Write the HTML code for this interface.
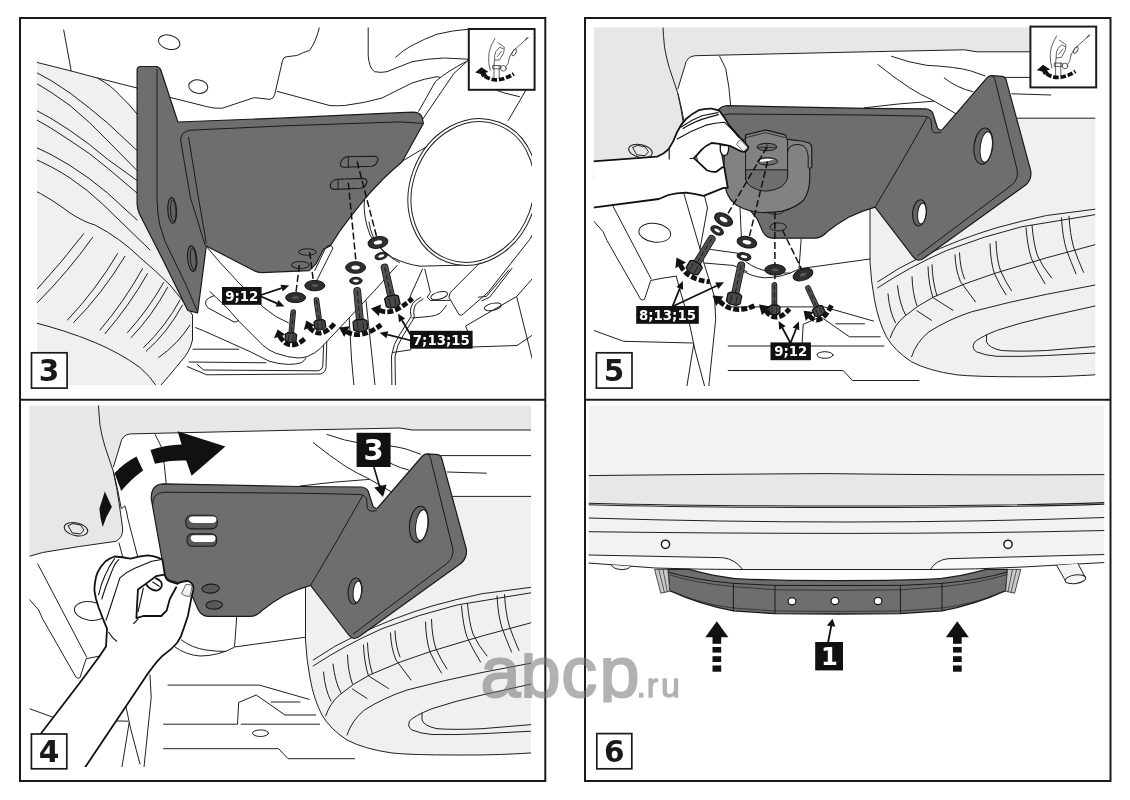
<!DOCTYPE html>
<html lang="ru"><head><meta charset="utf-8"><title>Installation steps 3-6</title>
<style>
html,body{margin:0;padding:0;background:#fff;}
svg{display:block;}
.lbl{font-family:"DejaVu Sans","Liberation Sans",sans-serif;font-weight:bold;}
.wm{font-family:"Liberation Sans",sans-serif;}
.l{fill:none;stroke:#231f20;stroke-width:1;stroke-linecap:round;stroke-linejoin:round;}
.d{fill:#6d6e71;stroke:#1a1a1a;stroke-width:1.2;stroke-linejoin:round;}
.k{fill:#111;}
</style></head><body>
<svg width="1130" height="800" viewBox="0 0 1130 800" style="filter:grayscale(1)">
<defs>
<clipPath id="c3"><rect x="37" y="27.5" width="495" height="357.6"/></clipPath>
<clipPath id="c5"><rect x="593.75" y="27.5" width="501.5" height="358.5"/></clipPath>
<clipPath id="c4"><rect x="29.5" y="405.5" width="501.5" height="361.5"/></clipPath>
<clipPath id="cwm"><rect x="470" y="653" width="230" height="49.4"/></clipPath>
<clipPath id="c6"><rect x="588.75" y="405.5" width="515.5" height="370"/></clipPath>
<!-- shared background of panels 4/5 in panel-4 coordinates -->
<g id="bg45">
<!-- gray top band + left body panel -->
<path d="M20,395 H545 V430 L412,430 L400,428 L302,430 L130.6,433.9 Q122,434.6 120.4,444 L113.5,466.7 L113.2,471 Q117,488 119.2,503.7 L122.6,528 Q123.5,537 116,541.3 Q80,546 42.5,552.5 L20,559 Z" fill="#e6e7e8"/>
<!-- tire fill -->
<path d="M305.5,586 L452.6,496.4 H545 V752 Q500,755.5 457,755 Q410,755 392,753 Q364,749 347,740 Q330,729 322,715 Q314,700 310,678 Q306.5,660 305.5,640 Z" fill="#eff0f0"/>
<g class="l">
<!-- body panel edge -->
<path d="M98.1,400 Q99,415 100,425.4 Q102,437 105,446.7 L113.2,471 Q117,488 119.2,503.7 L122.6,528 Q123.5,537 116,541.3 Q80,546 42.5,552.5 L20,559"/>
<!-- white opening edge -->
<path d="M545,430 L412,430 L400,428 L302,430 L130.6,433.9 Q122,434.6 120.4,444 L113.5,466.7"/>
<path d="M113.6,472 Q118,490 121.3,508.7 L124.9,505.9 Q127,512 127.7,518 L137.5,556"/>
<path d="M155.2,434.6 Q158.5,441 161.2,446.7 Q165,465 166.2,484"/>
<path d="M119,543 L123,558"/>
<!-- nut on body panel -->
<ellipse cx="76" cy="529.2" rx="12" ry="6.4" transform="rotate(12 76 529.2)"/>
<path d="M68.5,525.5 L73,523.6 L80.5,525 L84,530 L80.5,534 L72.5,533 Z"/>
<!-- lines above bracket -->
<path d="M313.3,442.7 Q330,456 345,466 Q356,473 367.4,478 L392.3,492.4"/>
<path d="M327,434.5 Q345,441 362,443.5 Q392,445 406,449 L420.7,454.2"/>
<path d="M300,486 Q335,481.5 369,479.4"/>
<path d="M440,455.6 H545"/>
<path d="M447.3,472 L486.3,473.2"/>
<path d="M379.7,456.2 Q392,466 408.5,470"/>
<path d="M452.6,496.4 H545"/>
<!-- tire -->
<path d="M305.5,586 V640 Q306.5,660 310,678 Q314,700 322,715 Q330,729 347,740 Q364,749 392,753 Q410,755 457,755 Q500,755.5 545,752"/>
<path d="M313.2,660 Q335,645 357,635 Q395,617 432,606 Q457,599 482,593.7 L545,585.5"/>
<path d="M313.2,666 Q345,645 382,628.7 Q420,614 457,605 L545,590.5"/>
<path d="M325.7,716 Q330,703 339.5,695 Q352,684 369.5,675 Q400,661 432,651 L482,636 L545,619"/>
<path d="M347,735 Q352,720 364.5,710 Q383,698 407,690 Q445,680 482,672.5 L545,660.5"/>
<path d="M545,681 L482,695 Q455,701 432,708.7 Q414,716 409.5,721 Q407,727 412,730 Q420,733.5 432,734.5 Q457,735 482,733.7 L545,730.5"/>
<path d="M545,723.5 L482,728.7 Q455,730 437,728.7 Q424,726 422,720 L422,713"/>
<!-- tread grooves -->
<path d="M323.5,672 Q325,690 331,701"/><path d="M333,664 Q335,682 341,693"/>
<path d="M347.5,655 Q348,672 352.5,684"/>
<path d="M363.5,645 Q364,662 368.5,676"/><path d="M367.5,643 Q368,660 372.5,674"/>
<path d="M352.5,689 L367,698.5"/><path d="M369.5,676.5 L388.5,688.5"/>
<path d="M390.5,633 Q391,648 396,660 L411,680"/><path d="M395,631 Q395.5,646 400,657"/>
<path d="M425.5,622 Q426,640 430,652 Q435,663 441.5,673"/><path d="M431.5,619.5 Q432,637 436,649 Q441,660 447,669"/>
<path d="M461.5,606 Q463,625 467,637 Q472,648 480.5,662"/><path d="M467.5,603.5 Q469,622 473,634 Q478,645 487,656"/>
<path d="M497,596 Q498,615 502,628 Q506,639 511.5,652"/><path d="M504.5,594.5 Q505.5,612 509,625 Q513,637 519,650.5"/>
<!-- lower-left structure lines -->
<path d="M28.7,598.7 L38.7,610 L42.5,618.7 L76.2,677.5 Q78.5,679 80,677.5 L86.2,658.7 L100,656 L111.7,654.4"/>
<path d="M37.8,564 L86.6,657"/>
<ellipse cx="90.3" cy="611" rx="16" ry="9.3" transform="rotate(8 90.3 611)"/>
<path d="M29.5,708.7 L59.2,719.5 L128,721.2"/>
<path d="M129.2,722.5 L121.5,770"/><path d="M111.7,654.4 L115.5,668.2 L124.2,698.2 L130.5,728.2 L140,764"/><path d="M150,675 L151.2,697.5 L143.7,770"/>
<path d="M236.7,616.8 L234.5,647 L305.5,637.2"/>
<path d="M175,647 Q186,655 200,656 Q218,656 234,647.5"/>
<path d="M181.3,639.9 Q192,648 206,650 Q216,651.5 225.7,651.4"/>
<path d="M168,685.1 H259.4 L309,699.3"/>
<path d="M163.7,724.2 H237.5 L238.7,702.5 L256.2,695 L285,715 H315.7"/>
<path d="M241.2,724.2 H319.5"/>
<path d="M271.2,702 H300"/>
<ellipse cx="260.5" cy="733.2" rx="8" ry="3.3"/>
<path d="M163.7,748.7 H278.7 L288,758.7 H354.5"/>
</g>
</g>
<!-- shared plate + Z bracket (panel-4 coordinates) -->
<g id="plate45">
<path class="d" d="M151.3,499 Q150.8,484.5 163,483.8 L300,486.5 L361.2,487 Q366.5,487.3 368.3,491.5 L372.8,505.7 Q374.5,509.3 377.6,508 L422.4,456 Q424.5,453.8 427.5,453.8 L438,454.6 Q441.3,455.3 442,459.5 L466,548 Q468,556.5 461.5,563 L360.3,635.8 Q355.5,639.5 352.4,638 Q349.6,636.5 347.9,634 L310.6,585.3 Q297,589 284.2,595.5 Q272,602.5 263,609.7 Q257,616.4 250,616.4 L208,616.4 Q201.5,616 198.2,609.7 L192.8,597.3 L186,589 L175.5,581.8 Q166.5,581 164.8,574.7 Z"/>
<g class="l" style="stroke:#1a1a1a">
<!-- front face outlines -->
<path d="M152.6,505 Q152.2,492.6 164.8,492.2 L300,493.2 L359,494.4 Q365,494.8 366.5,498.6 L367.4,508.3 Q368.4,511.3 372,511.2 L376.5,510.6"/>
<path d="M362.8,495.4 L337.3,540 L310.6,585.3"/>
<path d="M427.5,453.9 Q429.5,454.5 430.4,457.7 L452.6,548 Q454.5,556.5 447.5,563 L353.2,634"/>
</g>
<!-- big hole -->
<g transform="rotate(7 418.9 524.3)">
<ellipse cx="418.9" cy="524.3" rx="9.3" ry="18.2" fill="#646568" stroke="#1a1a1a" stroke-width="1.1"/>
<ellipse cx="421.8" cy="524.8" rx="6" ry="15.4" fill="#fff" stroke="#1a1a1a" stroke-width="1"/>
</g>
<!-- lower hole -->
<g transform="rotate(6 355 591)">
<ellipse cx="355" cy="591" rx="6.9" ry="13.1" fill="#646568" stroke="#1a1a1a" stroke-width="1.1"/>
<ellipse cx="357.4" cy="591.4" rx="4.2" ry="10.6" fill="#fff" stroke="#1a1a1a" stroke-width="1"/>
</g>
</g>
<!-- inset icon: hand tightening (local coords, origin = outer top-left of box) -->
<g id="inset">
<rect x="1" y="1" width="65.8" height="60.8" fill="#fff" stroke="#1a1a1a" stroke-width="2"/>
<g fill="none" stroke="#3a3a3a" stroke-width=".8" stroke-linecap="round" stroke-linejoin="round">
<path d="M27.2,10.3 Q23,17 21.5,23.4 Q20.4,30 21.1,35.6 L22.5,42.2"/>
<path d="M30,14.6 L36.5,19.2 Q36.6,22.5 35.6,25.3 L31.8,31.9 L26.7,32.2 L26.2,37.5"/>
<path d="M26.7,32.2 Q26.4,27 28.2,23.4 L32.2,19.2 L35.6,21"/>
<path d="M29.5,28.5 L33.6,23.4"/>
<path d="M26.2,37.5 V49.7 M31.4,37.5 V49.7"/>
<path d="M25.3,37.5 H32.8 V40.8 H25.3Z"/>
<circle cx="35.6" cy="40.3" r="2.8"/>
<path d="M41.7,29.1 Q43.5,25 46.8,21.6 L56.2,13.1 L60.4,9.9 M57.5,12 L59.5,9.2"/>
<ellipse cx="46.4" cy="24.4" rx="1.8" ry="3.8" transform="rotate(28 46.4 24.4)"/>
<path d="M41.7,29.1 L40.3,35.6 L38,38.6"/>
</g>
<path d="M13.6,39.2 L20.8,44 L17.6,44.8 L19.6,47.6 L14.4,49.2 L12.8,46 L7.4,44.6Z" fill="#111"/>
<path d="M17,48.2 Q29,56.5 46,45.8" fill="none" stroke="#111" stroke-width="3.8" stroke-dasharray="5.6 1.8"/>
</g>

</defs>
<rect width="1130" height="800" fill="#fff"/>
<g clip-path="url(#c3)">
<!-- tire fill -->
<path d="M30,60.7 L97.5,78 Q112,86 120,95.5 Q130,105 150,114 V230 L196,312 L192.5,316 V340 Q190,352 180,362.5 Q170,375 155,392 H30 Z" fill="#eff0f0"/>
<g class="l">
<!-- tire edge + tread curves -->
<path d="M30,60.7 L71.2,71 L97.5,78 L137,88"/>
<path d="M63.7,30 L71.2,71"/>
<path d="M97.5,78 Q112,86 120,95.5 Q130,105 137,114"/>
<path d="M30,69 Q52,80 70,93 Q90,108 107.5,123 L137,150.5"/>
<path d="M30,79.5 Q52,92 70,105.5 Q90,122 107.5,140.5 L137,170.5"/>
<path d="M30,107 Q52,118 70,130.5 Q90,144 107.5,159.2 L137,180.5"/>
<path d="M30,116 Q52,128 70,140.5 Q90,153 107.5,168 L137,193"/>
<path d="M30,144.5 Q52,154 70,165.5 Q90,178 107.5,193 L137,220"/>
<path d="M30,157 Q52,166 70,178 Q88,190 102.5,204 L150,250"/>
<path d="M30,188 Q52,199 70,213 Q84,222 95,225 Q120,238 140,257.5 Q156,271 170,285 Q183,300 192.5,315 V340 Q190,352 180,362.5 Q170,375 155,392"/>
<path d="M30,321.5 Q65,330 95,342.5 Q120,353 140,367.5 Q150,376 158,388"/>
<!-- tread grooves -->
<path d="M83.7,233.7 Q62,262 37.5,288.7"/><path d="M92.5,237.5 Q68,272 37.5,302.5"/>
<path d="M117.5,253.7 Q96,290 67.5,320"/><path d="M125,256.2 Q102,294 73.7,322.5"/>
<path d="M142.5,268.7 Q124,302 100,330"/><path d="M147.5,273.7 Q129,306 105,333.7"/>
<path d="M163.7,282.5 Q148,310 127.5,332.5"/><path d="M167.5,287.5 Q152,316 131.2,337.5"/>
<path d="M180,300 Q166,326 143.7,347.5"/><path d="M182.5,305 Q168,332 146.2,351.2"/>
<path d="M190,325 Q178,344 158.7,357.5"/>
<!-- upper structure -->
<ellipse cx="169.2" cy="42.2" rx="11" ry="7" transform="rotate(15 169.2 42.2)"/>
<ellipse cx="198.3" cy="86.6" rx="9.6" ry="6.7" transform="rotate(8 198.3 86.6)"/>
<path d="M137,88 L170.8,97.6 L206.3,106.5 Q214,108.8 222.3,108.2 L254.2,97.6 L270.2,99.4 Q273.5,98.5 274.6,94.9 L282.6,60.3 Q283.5,57 286.2,56.8 L296.8,55.5 Q304,52 309.5,50.5 Q316,42 319.5,27"/>
<path d="M277.3,91.4 L330,105.6 Q338,106 344.5,105.5 Q365,103 382,98 L412,83 Q425,78.5 437,76.7 L440.7,77.5"/>
<path d="M368.2,27 V55.5 Q369,68 374.5,71.7 Q381,73 387,71.7 L412,61.7 Q428,58.5 444.5,58 L468.2,59.2"/>
<path d="M395.7,57.2 Q403,50 412,45.5 Q424,39 437,34.2 Q452,30.5 468.2,29.2"/>
<path d="M467.5,60.8 Q446,72 435.4,81.6 L418.7,111.2"/>
<path d="M467.5,61 L454,73.3 L422.8,119"/>
<path d="M497,90.5 L504.5,93 L519.5,96.7"/>
<path d="M525.7,90.5 L508.2,120.5"/>
</g>
<!-- muffler body (white) -->
<path d="M440,138.7 L400,162.5 L364,200 Q362.5,215 370,235 Q378,248 392.5,257.5 Q405,264 420,266.2 L470,265 L520,180 Z" fill="#fff"/>
<g class="l">
<path d="M440,138.7 L400,162.5"/>
<path d="M364.5,199 Q362.5,215 370,235 Q378,248 392.5,257.5 Q405,264 420,266.2 L466,265"/>
<path d="M369,222 Q371,238 382,250 Q392,259 399.5,262.5"/>
</g>
<!-- exhaust ellipse -->
<g transform="rotate(-69.7 472.7 192)">
<ellipse cx="472.7" cy="192" rx="74.7" ry="63.2" fill="#fff" stroke="#231f20" stroke-width="1"/>
<ellipse cx="472.7" cy="192" rx="71.6" ry="60.1" fill="none" stroke="#231f20" stroke-width="1"/>
</g>
<!-- bracket: flange + plate -->
<path class="d" d="M137.1,70 Q137.1,66.5 140.5,66.5 L156,66.5 Q159.5,66.8 160.8,70 L177.9,122 L285,117.9 L400,112.7 L414,112.2 Q420,112.4 422.2,117.6 L423.4,123.5 L402,162 Q390,172 382,180.2 Q372,190 364.2,199.7 L350,217.4 L339.4,231.6 L330.5,245.8 L323.4,249.4 L316.3,263.6 L309.2,270.7 L262,272.6 Q257.5,272.6 254.2,270.7 L206.3,246 L197.6,312.8 L187.8,310.5 L162.5,259 L139.5,214 Q137.3,209 137.1,204 Z"/>
<g class="l" style="stroke:#1a1a1a">
<path d="M157,69.2 V200 Q157.5,214 159.5,224 L165,241.3 L186,285 L197,310.5"/>
<path d="M422.6,123.4 L400,121.9 L285,125.8 L190.3,130.2 Q181,131.3 180.6,140.2 L190.3,197 L205,245"/>
<path d="M188.6,137.5 L198.3,197 L206.3,243"/>
</g>
<!-- flange holes -->
<g fill="#626366" stroke="#1a1a1a" stroke-width="1.1">
<ellipse cx="172.2" cy="210.4" rx="4.4" ry="12.8" transform="rotate(-3 172.2 210.4)"/>
<ellipse cx="192.2" cy="258.6" rx="4.6" ry="12.8" transform="rotate(-5 192.2 258.6)"/>
</g>
<g fill="none" stroke="#1a1a1a" stroke-width=".9">
<ellipse cx="173.2" cy="210.8" rx="2.7" ry="10.6" transform="rotate(-3 173.2 210.8)"/>
<ellipse cx="193.2" cy="259" rx="2.8" ry="10.6" transform="rotate(-5 193.2 259)"/>
</g>
<!-- slots -->
<g fill="#6d6e71" stroke="#1a1a1a" stroke-width="1.1" stroke-linejoin="round">
<path d="M346.5,156.7 L374.5,156.2 Q378.4,156.8 378,159.8 Q376.5,165.6 371.3,166.3 L344.5,167.2 Q340.2,167 340.3,164.2 Q341.5,158 346.5,156.7Z"/>
<path d="M336.7,179.3 L363.5,178.4 Q367.3,179 366.9,182 Q365.5,187.6 360.7,188.2 L334,189.4 Q330,189 330.2,185.5 Q331.5,180.2 336.7,179.3Z"/>
</g>
<path d="M348.3,157 V167 M338.1,179.6 V189" class="l" style="stroke:#1a1a1a"/>
<!-- plate small holes -->
<g fill="none" stroke="#1a1a1a" stroke-width="1">
<ellipse cx="307.4" cy="252" rx="8.9" ry="3.2"/>
<ellipse cx="300.3" cy="265" rx="8.9" ry="3.5"/>
</g>
<!-- guide dashes -->
<g fill="none" stroke="#111" stroke-width="1.5" stroke-dasharray="7 3">
<path d="M357.1,161.5 L377.5,240"/>
<path d="M348.3,182.8 L356.2,264"/>
<path d="M309.7,252 L313.5,282"/>
<path d="M299.4,265 L295.5,296"/>
</g>

<!-- chassis / frame lines lower right -->
<g class="l">
<path d="M314.8,270.4 L326,247.2 Q328.5,244.5 330.8,245.6 L333,248 L316,282"/>
<path d="M206,246 L219.6,262 L238.8,282.8 L262.8,306.8 L275.6,316.4 L288.4,322.8"/>
<path d="M210,291.6 L227.6,308.4 L238.8,321.2 L262.8,345.2 Q269,350.5 275.6,353.2 Q288,357.5 298,358 Q303,358 307.6,356.4 Q315,353.5 320.4,348.4 L346,321.2 L374,291.2 L397,265.5"/>
<path d="M214,295.6 Q209,297 206,300.4 Q204.5,304.5 207.6,307.6 L234,322 Q237,322.2 238.8,320.4"/>
<path d="M195.6,327.6 L203.6,330.8 L250,351.6 L269.2,361.2 Q279,364.2 288.4,364.4 Q296,364.4 301.2,362.8 Q304.5,361 306,358"/>
<path d="M193,349.2 H238.8"/>
<path d="M189,362 L266,362.8"/>
<path d="M197.2,364.4 L203.6,370 L318.8,370.8 Q322.5,369.5 322.8,366 L323.6,345.2"/>
<path d="M187,366.5 L206.8,374.8 L320.4,374 Q325.6,372.5 326,367.6 L326.8,342"/>
<path d="M349.2,318.4 L351.6,360 L354.5,392"/>
<path d="M366,300.8 L372.4,360 L375.7,392"/>
<path d="M422.4,269.2 L411.2,294 L409.6,298.8"/>
<path d="M424.8,269.2 L430.4,292.4 L427.2,297.2 L430.4,300.4 L449.6,300.4"/>
<path d="M420.8,297.2 Q414,301 412.8,303.6 Q410.2,308 410.4,311.6 L411.2,316.4 L400,334 Q393,344 391.5,356 L392,392"/>
<path d="M423,299 Q417,302.5 415.4,305 Q413.4,309 413.8,312.6 L414.4,317.4 L403.4,335 Q396.5,345 395,357 L395.5,392"/>
<path d="M446.4,305.2 Q443.5,310 440,313.2 Q436,315.8 430.4,316.4 L412,318"/>
<ellipse cx="439.2" cy="295.6" rx="8.6" ry="3.6" transform="rotate(-15 439.2 295.6)"/>
<ellipse cx="492.8" cy="306.8" rx="8.6" ry="3.5" transform="rotate(-12 492.8 306.8)"/>
<path d="M480,262.8 L450.4,292.4 L448.8,297.2 L459.2,314.8 Q461.5,316 463.2,314 L488,292.4 L529.6,239.6 L540,222"/>
<path d="M508.8,270 L486.4,296.4 L478.4,297.2"/>
<path d="M512,268.4 L489.6,297.2 L482,300.8"/>
<path d="M516.8,297.2 L529.6,348.4 L533,362"/>
<path d="M540,270 L516.8,296.4 L465.6,326 L472,342"/>
<path d="M472.5,347 L517,345.5 L540,330"/>
<path d="M392.5,352.5 L411,349.8"/>
</g>

<g transform="rotate(0 295.6 297.6)"><ellipse cx="295.6" cy="297.6" rx="10" ry="5" fill="#2f2f31" stroke="#111" stroke-width="1"/><ellipse cx="295.6" cy="297.6" rx="3.3" ry="1.3" fill="#58595b"/></g>
<line x1="293.2" y1="312" x2="290.8" y2="337.6" stroke="#111" stroke-width="5.6" stroke-linecap="round"/><line x1="293.2" y1="312" x2="290.8" y2="337.6" stroke="#505053" stroke-width="4.2" stroke-linecap="round"/><line x1="293.2" y1="312" x2="290.8" y2="337.6" stroke="#1a1a1a" stroke-width="1" stroke-dasharray="5 2.5"/><g transform="translate(290.8 337.6) rotate(5.4)"><path d="M-5.5,-3.3249999999999997 L-3.3,-4.75 L3.3,-4.75 L5.5,-3.3249999999999997 L5.5,2.85 L2.75,4.75 L-2.75,4.75 L-5.5,2.85Z" fill="#4a4a4d" stroke="#111" stroke-width="1.3" stroke-linejoin="round"/><path d="M-2.2,-2.85 V3.8000000000000003 M2.2,-2.85 V3.8000000000000003" stroke="#111" stroke-width=".7" fill="none"/></g>
<g transform="rotate(0 314.8 285.6)"><ellipse cx="314.8" cy="285.6" rx="10" ry="5.2" fill="#2f2f31" stroke="#111" stroke-width="1"/><ellipse cx="314.8" cy="285.6" rx="3.3" ry="1.3" fill="#58595b"/></g>
<line x1="316.4" y1="300" x2="319.9" y2="324.8" stroke="#111" stroke-width="5.6" stroke-linecap="round"/><line x1="316.4" y1="300" x2="319.9" y2="324.8" stroke="#505053" stroke-width="4.2" stroke-linecap="round"/><line x1="316.4" y1="300" x2="319.9" y2="324.8" stroke="#1a1a1a" stroke-width="1" stroke-dasharray="5 2.5"/><g transform="translate(319.9 324.8) rotate(-8.0)"><path d="M-5.5,-3.3249999999999997 L-3.3,-4.75 L3.3,-4.75 L5.5,-3.3249999999999997 L5.5,2.85 L2.75,4.75 L-2.75,4.75 L-5.5,2.85Z" fill="#4a4a4d" stroke="#111" stroke-width="1.3" stroke-linejoin="round"/><path d="M-2.2,-2.85 V3.8000000000000003 M2.2,-2.85 V3.8000000000000003" stroke="#111" stroke-width=".7" fill="none"/></g>
<g transform="rotate(0 355.6 267.5)"><ellipse cx="355.6" cy="267.5" rx="10" ry="5.8" fill="#2f2f31" stroke="#111" stroke-width="1"/><ellipse cx="355.6" cy="267.5" rx="4.2" ry="2" fill="#fff"/></g>
<g transform="rotate(0 355.9 280.8)"><ellipse cx="355.9" cy="280.8" rx="6.3" ry="3.5" fill="#2f2f31" stroke="#111" stroke-width="1"/><ellipse cx="355.9" cy="280.8" rx="3" ry="1.4" fill="#fff"/></g>
<line x1="357.2" y1="291" x2="360.4" y2="325.6" stroke="#111" stroke-width="7.800000000000001" stroke-linecap="round"/><line x1="357.2" y1="291" x2="360.4" y2="325.6" stroke="#505053" stroke-width="6.4" stroke-linecap="round"/><line x1="357.2" y1="291" x2="360.4" y2="325.6" stroke="#1a1a1a" stroke-width="1" stroke-dasharray="5 2.5"/><g transform="translate(360.4 325.6) rotate(-5.3)"><path d="M-7.0,-4.199999999999999 L-4.2,-6.0 L4.2,-6.0 L7.0,-4.199999999999999 L7.0,3.5999999999999996 L3.5,6.0 L-3.5,6.0 L-7.0,3.5999999999999996Z" fill="#4a4a4d" stroke="#111" stroke-width="1.3" stroke-linejoin="round"/><path d="M-2.8000000000000003,-3.5999999999999996 V4.800000000000001 M2.8000000000000003,-3.5999999999999996 V4.800000000000001" stroke="#111" stroke-width=".7" fill="none"/></g>
<g transform="rotate(-10 378 242.4)"><ellipse cx="378" cy="242.4" rx="10" ry="5.8" fill="#2f2f31" stroke="#111" stroke-width="1"/><ellipse cx="378" cy="242.4" rx="4.2" ry="2" fill="#fff"/></g>
<g transform="rotate(-15 381.2 256)"><ellipse cx="381.2" cy="256" rx="6.3" ry="3.4" fill="#2f2f31" stroke="#111" stroke-width="1"/><ellipse cx="381.2" cy="256" rx="3" ry="1.4" fill="#fff"/></g>
<line x1="384.6" y1="267.5" x2="392.4" y2="301.6" stroke="#111" stroke-width="7.800000000000001" stroke-linecap="round"/><line x1="384.6" y1="267.5" x2="392.4" y2="301.6" stroke="#505053" stroke-width="6.4" stroke-linecap="round"/><line x1="384.6" y1="267.5" x2="392.4" y2="301.6" stroke="#1a1a1a" stroke-width="1" stroke-dasharray="5 2.5"/><g transform="translate(392.4 301.6) rotate(-12.9)"><path d="M-7.0,-4.199999999999999 L-4.2,-6.0 L4.2,-6.0 L7.0,-4.199999999999999 L7.0,3.5999999999999996 L3.5,6.0 L-3.5,6.0 L-7.0,3.5999999999999996Z" fill="#4a4a4d" stroke="#111" stroke-width="1.3" stroke-linejoin="round"/><path d="M-2.8000000000000003,-3.5999999999999996 V4.800000000000001 M2.8000000000000003,-3.5999999999999996 V4.800000000000001" stroke="#111" stroke-width=".7" fill="none"/></g>
<path d="M279.6,336 Q289.20000000000005,352.8 305.2,338.4" fill="none" stroke="#111" stroke-width="4.8" stroke-dasharray="6 2.1"/><path d="M277.6,329.6 L285.5,334.7 L274.0,338.3Z" fill="#111"/>
<path d="M309.2,327.2 Q320.4,340.8 334.8,323.2" fill="none" stroke="#111" stroke-width="4.8" stroke-dasharray="6 2.1"/><path d="M306.4,320.4 L314.9,325.4 L303.8,329.9Z" fill="#111"/>
<path d="M346.5,331.4 Q360.15,340.29999999999995 381.2,324.8" fill="none" stroke="#111" stroke-width="4.8" stroke-dasharray="6 2.1"/><path d="M339.0,327.6 L349.7,326.3 L344.2,337.0Z" fill="#111"/>
<path d="M379.5,310.2 Q392.05,316.9000000000001 412.4,298.4" fill="none" stroke="#111" stroke-width="4.8" stroke-dasharray="6 2.1"/><path d="M371.0,308.6 L381.1,304.4 L378.9,316.2Z" fill="#111"/>
<rect x="222" y="287" width="39.6" height="17.8" class="k"/>
<text x="241.8" y="300.6" class="lbl" font-size="13.3" fill="#fff" text-anchor="middle">9;12</text>
<rect x="410" y="330.8" width="62.6" height="17.9" class="k"/>
<text x="441.3" y="344.5" class="lbl" font-size="13.3" fill="#fff" text-anchor="middle">7;13;15</text>

<line x1="261" y1="295" x2="281.6" y2="288.1" stroke="#111" stroke-width="1.8"/><path d="M289.2,285.6 L282.7,291.5 L280.5,284.7Z" fill="#111"/>
<line x1="261" y1="296.5" x2="277.0" y2="303.3" stroke="#111" stroke-width="1.8"/><path d="M284.4,306.4 L275.6,306.6 L278.4,300.0Z" fill="#111"/>
<line x1="411" y1="340.5" x2="387.4" y2="334.7" stroke="#111" stroke-width="1.8"/><path d="M379.6,332.8 L388.2,331.2 L386.5,338.2Z" fill="#111"/>
<line x1="412" y1="337" x2="402.1" y2="320.5" stroke="#111" stroke-width="1.8"/><path d="M398,313.6 L405.2,318.6 L399.0,322.3Z" fill="#111"/>
</g>
<g clip-path="url(#c5)">
<g transform="translate(564.5 -378.2)">
<use href="#bg45"/>
</g>
<!-- extra lines visible only in panel 5 -->
<g class="l">
<path d="M740,207.8 L741.6,241.4"/>
<path d="M684,194 L700,249 L703.7,262.5 L714.5,296.8"/>
<path d="M704.5,196 L707.5,208 L700,249"/>
<path d="M710.4,249.4 L739.2,253.4"/>
<path d="M704,263 L732.8,265.4 Q741,268 747.2,271.8"/>
</g>
<g transform="translate(564.5 -378.2)"><use href="#plate45"/></g>
<!-- plate holes -->
<g fill="#808285" stroke="#1a1a1a" stroke-width="1">
<ellipse cx="775.1" cy="210.6" rx="8.5" ry="3.6"/>
<ellipse cx="778.2" cy="226.9" rx="8.2" ry="4" fill="#6d6e71"/>
</g>
<!-- tow hook -->
<path d="M724.2,156 L724.2,171.2 Q724.5,183 726.3,191.2 Q729.5,200 737,205.4 Q748,211.5 761.2,212.5 Q772,212.8 782.6,211.1 Q796,207.5 804,199.7 Q809.5,191 809.7,179.8 L809.7,168.4 L811.8,167 L811.8,148.4 Q811.5,143.5 808.2,142.7 Q803,140.8 798.3,140.6 L786.9,139.2 L785.4,134.9 L765.5,129.9 L745.6,134.9 L745.2,139.5 Q734,140.5 728.5,146 Q724.5,150 724.2,156 Z" fill="#808285" stroke="#1a1a1a" stroke-width="1.2" stroke-linejoin="round"/>
<path d="M745.6,169.8 H787.6 V176.9 Q786.5,183 781.2,186.9 Q774,190.8 765.5,191.2 Q758,190.8 751.3,186.9 Q747.5,184.5 745.6,179.8 Z" fill="#6d6e71" stroke="#1a1a1a" stroke-width="1"/>
<g class="l" style="stroke:#1a1a1a">
<path d="M745.6,136 V179.8"/><path d="M787.6,140 V176.9"/>
<path d="M787.6,152.7 Q788,147 793,145 Q798.3,143.6 803,145.5 Q807.5,148 808.2,157 L808.2,168"/>
<path d="M746.5,137.5 L765.5,132.6 L784.5,137.5" stroke-width=".8"/>
</g>
<ellipse cx="766.9" cy="147" rx="10" ry="3.7" fill="#6d6e71" stroke="#1a1a1a" stroke-width="1"/>
<path d="M758,147.4 H776 M766.9,144 V150" class="l" style="stroke-width:.8"/>
<ellipse cx="767.6" cy="161.3" rx="10" ry="3.7" fill="#6d6e71" stroke="#1a1a1a" stroke-width="1"/>
<path d="M759.5,160.3 Q765,157.8 774,159.2 Q768,161.5 760.5,161.8Z" fill="#fff"/>

<g fill="none" stroke="#111" stroke-width="1.5" stroke-dasharray="7 3">
<path d="M766.9,147 L726,217"/>
<path d="M767.6,161.3 L749,238"/>
<path d="M774.9,212 V283"/>
<path d="M782.4,230 L804,274"/>
</g>

<path d="M588,161.8 L657.2,156.6 Q664,154 668.4,149.4 L673.2,141.4 L677.2,131.8 Q681,124 686,119 Q692,113.5 698.8,110.2 Q705,108.3 711.6,108.6 Q716,109.3 719.6,111 Q725,118 729.2,125.4 L740.4,138.2 Q745,142.5 748.4,147 Q748,150.5 744.4,151.8 Q741,151.5 738.8,150.2 L730.8,146.2 L719.6,143.8 L711.6,143 Q706,145.5 702,149.4 L694,158.2 L706.8,170.2 Q711.5,172.3 716.4,171.8 L722.8,167 L724.3,167.5 L727.8,187.8 L723.6,187.8 L703.6,195.8 Q694,193.5 686,192.6 Q676,193 668.4,195 L658.8,199 L588,208.3 Z" fill="#fff" stroke="#111" stroke-width="1.8" stroke-linejoin="round"/>
<path d="M720.5,146 Q719.5,151 722,154.5 Q724.5,156.5 727,154.5 Q729,151 728.6,146.4" fill="#fff" stroke="#111" stroke-width="1.3"/>
<g class="l" style="stroke-width:1.1;stroke:#111">
<path d="M681.2,127 Q691,120 702,115.8 L718,112.6"/>
<path d="M677.2,139 Q690,131 705.2,125.4 Q715,122.5 724.4,122.2 Q732,129 738.8,137.4"/>
<path d="M683,128.5 Q695,121 708.4,117.4 L718.5,114.6"/>
<path d="M669.2,149.4 V159"/>
<path d="M694,158.2 L690,158.5"/>
</g>
<path d="M740.2,139.8 L747.6,147.2 Q746.6,150.2 743.4,151 L736.6,144.6 Q737.6,141.2 740.2,139.8Z" fill="#f1f1f2" stroke="#555" stroke-width=".8"/>


<g transform="rotate(27 723.6 219.6)"><ellipse cx="723.6" cy="219.6" rx="9.6" ry="5.8" fill="#2f2f31" stroke="#111" stroke-width="1"/><ellipse cx="723.6" cy="219.6" rx="4.2" ry="2" fill="#fff"/></g>
<g transform="rotate(27 717.1 230.5)"><ellipse cx="717.1" cy="230.5" rx="6.8" ry="3.9" fill="#2f2f31" stroke="#111" stroke-width="1"/><ellipse cx="717.1" cy="230.5" rx="3.1" ry="1.5" fill="#fff"/></g>
<line x1="711.6" y1="239" x2="694" y2="267.8" stroke="#111" stroke-width="8.0" stroke-linecap="round"/><line x1="711.6" y1="239" x2="694" y2="267.8" stroke="#505053" stroke-width="6.6" stroke-linecap="round"/><line x1="711.6" y1="239" x2="694" y2="267.8" stroke="#1a1a1a" stroke-width="1" stroke-dasharray="5 2.5"/><g transform="translate(694 267.8) rotate(31.4)"><path d="M-7.0,-4.199999999999999 L-4.2,-6.0 L4.2,-6.0 L7.0,-4.199999999999999 L7.0,3.5999999999999996 L3.5,6.0 L-3.5,6.0 L-7.0,3.5999999999999996Z" fill="#4a4a4d" stroke="#111" stroke-width="1.3" stroke-linejoin="round"/><path d="M-2.8000000000000003,-3.5999999999999996 V4.800000000000001 M2.8000000000000003,-3.5999999999999996 V4.800000000000001" stroke="#111" stroke-width=".7" fill="none"/></g>
<g transform="rotate(12 746.9 242.2)"><ellipse cx="746.9" cy="242.2" rx="10" ry="5.6" fill="#2f2f31" stroke="#111" stroke-width="1"/><ellipse cx="746.9" cy="242.2" rx="4.4" ry="2" fill="#fff"/></g>
<g transform="rotate(12 744 256.6)"><ellipse cx="744" cy="256.6" rx="7" ry="3.8" fill="#2f2f31" stroke="#111" stroke-width="1"/><ellipse cx="744" cy="256.6" rx="3.2" ry="1.5" fill="#fff"/></g>
<line x1="741.2" y1="265.5" x2="734" y2="298.8" stroke="#111" stroke-width="8.0" stroke-linecap="round"/><line x1="741.2" y1="265.5" x2="734" y2="298.8" stroke="#505053" stroke-width="6.6" stroke-linecap="round"/><line x1="741.2" y1="265.5" x2="734" y2="298.8" stroke="#1a1a1a" stroke-width="1" stroke-dasharray="5 2.5"/><g transform="translate(734 298.8) rotate(12.2)"><path d="M-7.0,-4.199999999999999 L-4.2,-6.0 L4.2,-6.0 L7.0,-4.199999999999999 L7.0,3.5999999999999996 L3.5,6.0 L-3.5,6.0 L-7.0,3.5999999999999996Z" fill="#4a4a4d" stroke="#111" stroke-width="1.3" stroke-linejoin="round"/><path d="M-2.8000000000000003,-3.5999999999999996 V4.800000000000001 M2.8000000000000003,-3.5999999999999996 V4.800000000000001" stroke="#111" stroke-width=".7" fill="none"/></g>
<g transform="rotate(0 775.1 269.8)"><ellipse cx="775.1" cy="269.8" rx="10.3" ry="5.3" fill="#2f2f31" stroke="#111" stroke-width="1"/><ellipse cx="775.1" cy="269.8" rx="3.4" ry="1.4" fill="#58595b"/></g>
<line x1="774.4" y1="285" x2="774.4" y2="310" stroke="#111" stroke-width="5.699999999999999" stroke-linecap="round"/><line x1="774.4" y1="285" x2="774.4" y2="310" stroke="#505053" stroke-width="4.3" stroke-linecap="round"/><line x1="774.4" y1="285" x2="774.4" y2="310" stroke="#1a1a1a" stroke-width="1" stroke-dasharray="5 2.5"/><g transform="translate(774.4 310) rotate(0.0)"><path d="M-5.5,-3.3249999999999997 L-3.3,-4.75 L3.3,-4.75 L5.5,-3.3249999999999997 L5.5,2.85 L2.75,4.75 L-2.75,4.75 L-5.5,2.85Z" fill="#4a4a4d" stroke="#111" stroke-width="1.3" stroke-linejoin="round"/><path d="M-2.2,-2.85 V3.8000000000000003 M2.2,-2.85 V3.8000000000000003" stroke="#111" stroke-width=".7" fill="none"/></g>
<g transform="rotate(-20 803 274.6)"><ellipse cx="803" cy="274.6" rx="10.3" ry="5.6" fill="#2f2f31" stroke="#111" stroke-width="1"/><ellipse cx="803" cy="274.6" rx="3.4" ry="1.5" fill="#58595b"/></g>
<line x1="808" y1="288" x2="818.8" y2="311.2" stroke="#111" stroke-width="5.6" stroke-linecap="round"/><line x1="808" y1="288" x2="818.8" y2="311.2" stroke="#505053" stroke-width="4.2" stroke-linecap="round"/><line x1="808" y1="288" x2="818.8" y2="311.2" stroke="#1a1a1a" stroke-width="1" stroke-dasharray="5 2.5"/><g transform="translate(818.8 311.2) rotate(-25.0)"><path d="M-5.5,-3.3249999999999997 L-3.3,-4.75 L3.3,-4.75 L5.5,-3.3249999999999997 L5.5,2.85 L2.75,4.75 L-2.75,4.75 L-5.5,2.85Z" fill="#4a4a4d" stroke="#111" stroke-width="1.3" stroke-linejoin="round"/><path d="M-2.2,-2.85 V3.8000000000000003 M2.2,-2.85 V3.8000000000000003" stroke="#111" stroke-width=".7" fill="none"/></g>
<path d="M680.5,265 Q686,279 709.8,281.9" fill="none" stroke="#111" stroke-width="4.8" stroke-dasharray="6 2.1"/><path d="M676.5,257.5 L686.0,262.6 L675.4,268.3Z" fill="#111"/>
<path d="M719.4,301 Q733.1,315.2 754.4,305.8" fill="none" stroke="#111" stroke-width="4.8" stroke-dasharray="6 2.1"/><path d="M712.5,295.5 L723.5,296.6 L716.1,306.0Z" fill="#111"/>
<path d="M765.6,310.5 Q775.8,324.7 789.5,308.9" fill="none" stroke="#111" stroke-width="4.8" stroke-dasharray="6 2.1"/><path d="M759.0,304.5 L770.0,306.4 L761.9,315.3Z" fill="#111"/>
<path d="M809.4,316.1 Q820.4,327.8 831.7,305" fill="none" stroke="#111" stroke-width="4.8" stroke-dasharray="6 2.1"/><path d="M803.6,310.8 L813.8,312.0 L805.7,320.9Z" fill="#111"/>
<rect x="636.2" y="306" width="62.6" height="17.8" class="k"/>
<text x="667.5" y="319.6" class="lbl" font-size="13.3" fill="#fff" text-anchor="middle">8;13;15</text>
<rect x="770.5" y="342.4" width="40.4" height="17.8" class="k"/>
<text x="790.7" y="356" class="lbl" font-size="13.3" fill="#fff" text-anchor="middle">9;12</text>
<line x1="672.5" y1="306.5" x2="679.8" y2="288.4" stroke="#111" stroke-width="1.8"/><path d="M682.8,281 L683.1,289.8 L676.5,287.1Z" fill="#111"/>
<line x1="672.5" y1="306.5" x2="716.8" y2="285.7" stroke="#111" stroke-width="1.8"/><path d="M724,282.3 L718.3,289.0 L715.2,282.4Z" fill="#111"/>
<line x1="790.5" y1="343" x2="782.4" y2="328.0" stroke="#111" stroke-width="1.8"/><path d="M778.6,321 L785.6,326.3 L779.2,329.7Z" fill="#111"/>
<line x1="790.5" y1="343" x2="796.0" y2="329.0" stroke="#111" stroke-width="1.8"/><path d="M798.9,321.5 L799.3,330.3 L792.6,327.6Z" fill="#111"/>
</g>
<g clip-path="url(#c4)">
<use href="#bg45"/>
<use href="#plate45"/>
<!-- slots -->
<g stroke="#1a1a1a" stroke-width="1.1">
<rect x="185.8" y="515.3" width="31.4" height="13.6" rx="5.5" fill="#58595b"/>
<rect x="187" y="533.9" width="29.7" height="12.4" rx="5" fill="#58595b"/>
</g>
<path d="M192.5,516.4 H213.5 Q216.6,516.6 216.4,519.6 Q216.2,522.9 213,522.9 H193.5 Q189.6,522 189,519.4 Q189,516.6 192.5,516.4Z" fill="#fff"/>
<path d="M193.5,535.2 H212.8 Q215.6,535.4 215.4,538.4 Q215.2,541.9 212,541.9 H194.8 Q191.2,541 190.7,538.4 Q190.6,535.4 193.5,535.2Z" fill="#fff"/>
<g fill="#58595b" stroke="#1a1a1a" stroke-width="1.1">
<ellipse cx="210.6" cy="588.6" rx="8.7" ry="4.5" transform="rotate(-3 210.6 588.6)"/>
<ellipse cx="214.2" cy="605" rx="8.3" ry="4.3" transform="rotate(-3 214.2 605)"/>
</g>
<!-- hand -->
<path d="M36,740 L80.4,682 L99,657 L106,646.5 L107,628.7 L104,621.3 L98.6,607.5 L96,599 L94.4,590.5 Q94.6,580 97.6,572.4 Q100.5,566 105,561.8 Q109.5,558 114.6,556.5 Q122,557 130.5,558.6 Q139,556.5 147.5,555.4 Q153,555.6 158.1,557.6 L162.4,559.7 L164.8,574.7 Q166,580 170,581.3 L177.5,583.8 Q181,581.3 187.9,581 Q191,582 192.7,584.7 Q193.8,587.5 193.2,590.5 L191.6,596.9 L187.9,616 L183.6,628.8 Q181.5,637 177,643 Q171,650 162.9,655.4 Q157,661 152.2,667.8 L146.9,674.9 L82,772 L36,772 Z" fill="#fff" stroke="#111" stroke-width="1.8" stroke-linejoin="round"/>
<g class="l" style="stroke-width:1.8;stroke:#111">
<path d="M164.5,574.6 L156,576.2 L145.4,584.1 L138,589.4 L136.9,607.5 L136.4,618.1 L143.3,616 H161.3 L166.6,610.7 L169.8,599 L176.2,587.3"/>
<path d="M146.4,584.7 Q148.5,588 151.8,589.4 Q154.5,590.8 157.1,590.5 Q160,589.6 161.3,587.3 Q162.3,584.5 161.3,582 Q159,579.5 156,578.3"/>
</g>
<g class="l" style="stroke-width:1.1;stroke:#111">
<path d="M98.6,594.8 Q101,584 105,575.6 Q109,566 114.6,558.6"/>
<path d="M101.8,599 Q105,588 109.3,577.8 L113.5,567.1 Q115.5,562.5 118.8,559.7"/>
<path d="M106,620.3 L112.4,601 L119.9,577.8 Q126,572 134.8,568.2 L151.8,561.3 L160.3,559.7"/>
<path d="M152.8,582 L159.2,586.3"/>
<path d="M143.3,588.4 L138,611.8"/>
<path d="M133.7,623.5 L138,619.2"/>
<path d="M108.7,632.3 Q112,638 116.7,641.2"/>
</g>
<path d="M181.5,593.7 L185.8,584.6 Q189,583.6 192.3,585.9 L190,596.4 Q185,596.8 181.5,593.7Z" fill="#f1f1f2" stroke="#555" stroke-width=".9"/>
<!-- big curved arrow -->
<g class="k">
<path d="M177.6,431.3 L225.4,446.5 L191.6,475.8 L186.2,460.5 Q170,460 155,463.8 L150.4,449.9 Q166,445 181.6,444.6 Z"/>
<path d="M114.6,473.1 Q124,463 136.5,456.5 L143.1,470.4 Q131,479 121.2,491 Z"/>
<path d="M104.8,491.5 L111.9,507 Q106,516 102.7,527 Q100,518 99.4,508.8 Z"/>
</g>
<!-- label 3 -->
<rect x="356.6" y="432.8" width="34" height="34.2" class="k"/>
<text x="373.7" y="460.4" class="lbl" font-size="29" fill="#fff" text-anchor="middle">3</text>
<path d="M373.6,466 L380,488" stroke="#111" stroke-width="1.6" fill="none"/>
<path d="M383,497 L374.2,487.6 L386.6,484.4Z" class="k"/>

</g>
<g clip-path="url(#c6)">
<!-- bumper body -->
<path d="M588,405 H1105 V562.5 L1023,567 Q975,569.5 930,569.5 L742,569.5 Q700,569.5 655.5,568 L588,563 Z" fill="#f1f2f2"/>
<!-- gray band -->
<path d="M588,475.6 Q720,474.2 825,473.6 Q970,475.5 1105,474.6 V503 Q1000,506.4 846,506.4 Q700,506.4 588,503.6 Z" fill="#e6e7e8"/>
<!-- lower lip panels lighter -->
<path d="M588,555 L722.7,557.7 Q735,559 742.5,569.5 L655.5,568 L588,563Z" fill="#fafafa"/>
<path d="M1105,554.5 L948,558.7 Q936,560 930.5,569.5 L1023,567 L1105,562.5Z" fill="#fafafa"/>
<g class="l">
<path d="M588,475.6 Q720,474.2 825,473.6 Q970,475.5 1105,474.6"/>
<path d="M588,503.2 Q700,506 846,506 Q1000,506 1105,502.6" stroke-width="1.1"/>
<path d="M588,504.7 Q700,507.5 846,507.5 Q1000,507.5 1105,504.1" stroke-width="1.1"/>
<path d="M588,518 Q720,522 846,522 Q980,522 1105,517.5"/>
<path d="M588,531.7 Q720,533.4 846,533.4 Q980,533.4 1105,530.5"/>
<path d="M588,555 L722.7,557.7 Q735,559 742.5,569.3"/>
<path d="M1105,554.5 L948,558.7 Q936,560 930.5,569.3"/>
<path d="M588,563 L655.5,568 Q700,569.5 742,569.5 L930,569.5 Q975,569.5 1023,567 L1105,562.5"/>
<path d="M611.2,564.9 C613,570.5 628,571.5 630.7,566.3" fill="#f1f2f2"/>
</g>
<!-- sensors -->
<circle cx="665.5" cy="544.3" r="4.1" fill="#fff" stroke="#231f20" stroke-width="1.5"/>
<circle cx="1008" cy="544.3" r="4.1" fill="#fff" stroke="#231f20" stroke-width="1.5"/>
<!-- exhaust pipe right -->
<path d="M1056.7,565.5 L1065.3,580.5 L1085.6,577.8 L1078,563.8Z" fill="#f4f4f4"/>
<g class="l"><path d="M1056.7,565.5 L1065.3,580.5"/><path d="M1078,563.8 L1085.6,577.8"/></g>
<ellipse cx="1075.4" cy="579.3" rx="10.4" ry="4.3" transform="rotate(-8 1075.4 579.3)" fill="#f7f7f7" stroke="#231f20" stroke-width="1"/>
<!-- beam -->
<g id="beamhalf">
<path d="M667.9,569.4 L689,569.4 Q700,572.4 714,575.4 Q732,579 749.3,579.4 L790,580.4 L838.5,580.6 L838.5,614 L775,613.6 L733.4,610.8 Q700,604.5 669.6,590.6 Z" fill="#6d6e71"/>
<path d="M838.5,580.6 L790,580.4 L749.3,579.4 Q732,579 714,575.4 Q700,572.4 689,569.4 L667.9,569.4 L669.6,590.6 Q700,604.5 733.4,610.8 L775,613.6 L838.5,614" class="l" style="stroke-width:1.3;stroke-linecap:butt;stroke:#1a1a1a"/>
<path d="M667.9,572 Q695,580 733.4,583.4 L775,585.4 L838.5,585.5" class="l" style="stroke:#1a1a1a"/>
<path d="M668.8,574.6 Q695,583 733.4,586.6 L775,589.8 L838.5,590.3" class="l" style="stroke-width:.8;stroke:#2a2a2a"/>
<path d="M676,593 Q703,604.5 733.4,608 L775,611 L838.5,611.4" class="l" style="stroke-width:.8;stroke:#2a2a2a"/>
<path d="M733.4,583.4 V610.8 M775,585.6 V613.6" class="l" style="stroke:#1a1a1a"/>
<!-- end cap -->
<path d="M654.6,569.4 L667.9,569.4 L669.8,591.2 L660.8,593.2 Z" fill="#c8c9cb" stroke="#3a3a3a" stroke-width=".9" stroke-linejoin="round"/>
<path d="M658.8,569.6 L664.4,592.3 M663,569.6 L667.4,591.8" class="l" style="stroke-width:.8;stroke:#3a3a3a"/>
</g>
<use href="#beamhalf" transform="translate(1675.4 0) scale(-1 1)"/>
<g fill="#fff" stroke="#1a1a1a" stroke-width="1.2">
<ellipse cx="792" cy="601.2" rx="3.9" ry="3.6"/><ellipse cx="835" cy="601" rx="3.9" ry="3.6"/><ellipse cx="878" cy="601" rx="3.9" ry="3.6"/>
</g>
<!-- arrows -->
<g id="uparrow" class="k">
<path d="M716.8,621.2 L728.3,637.2 H705.3 Z"/>
<rect x="712.5" y="636.5" width="8.7" height="7.3"/>
<rect x="712.5" y="647" width="8.7" height="5.6"/>
<rect x="712.5" y="656.2" width="8.7" height="5.8"/>
<rect x="712.5" y="665.5" width="8.7" height="6.2"/>
</g>
<use href="#uparrow" transform="translate(240.5 0)"/>
<!-- label 1 -->
<rect x="815.2" y="642" width="27.8" height="28.4" class="k"/>
<text x="829.5" y="665.2" class="lbl" font-size="24.2" fill="#fff" text-anchor="middle">1</text>
<path d="M828,643 L831.2,626" stroke="#111" stroke-width="1.8" fill="none"/>
<path d="M832.5,618.7 L835.4,626.8 L826.8,625.6Z" class="k"/>

</g>
<!-- frames -->
<g fill="none" stroke="#1a1a1a" stroke-width="2">
<rect x="20" y="18" width="525.3" height="763"/>
<rect x="585" y="18" width="525.5" height="763"/>
<line x1="20" y1="399.8" x2="545.3" y2="399.8"/>
<line x1="585" y1="399.8" x2="1110.5" y2="399.8"/>
</g>
<!-- step number boxes -->
<g fill="#fff" stroke="#1a1a1a" stroke-width="1.7">
<rect x="31.5" y="352.8" width="35.6" height="35.3"/>
<rect x="596.4" y="352.8" width="35.6" height="35.3"/>
<rect x="31.4" y="734" width="35.4" height="34.8"/>
<rect x="596.8" y="733.6" width="35" height="35.2"/>
</g>
<g class="lbl" font-size="29.6" fill="#1a1a1a" text-anchor="middle">
<text x="49.1" y="381">3</text>
<text x="614.1" y="381">5</text>
<text x="49" y="762">4</text>
<text x="614.2" y="762">6</text>
</g>
<!-- watermark -->
<g class="wm" fill="#6f747a" stroke="#6f747a" opacity="0.55" stroke-linejoin="round" clip-path="url(#cwm)">
<text x="480.6 520.6 561.2 599.6" y="697" font-size="72" stroke-width="2">abcp</text>
<text x="636.4 646.8 661" y="697" font-size="34" stroke-width="1.3">.ru</text>
</g>
<use href="#inset" transform="translate(1029.4 25.6)"/>
<use href="#inset" transform="translate(467.8 28)"/>

</svg>
</body></html>
